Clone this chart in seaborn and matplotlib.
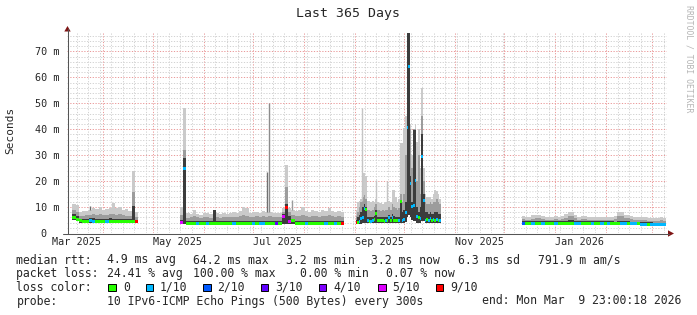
import numpy as np
import pandas as pd
import matplotlib
matplotlib.use("Agg")
import matplotlib.pyplot as plt
import matplotlib.dates as mdates
import matplotlib.transforms as mtransforms
from matplotlib.ticker import FixedLocator, MultipleLocator, NullFormatter
from matplotlib.patches import Polygon, Rectangle
from matplotlib.lines import Line2D
import seaborn as sns

# ---------------- data ----------------
title = "Last 365 Days"
y_label = "Seconds"
t_start = "2025-03-09 23:00:18"
t_end = "2026-03-09 23:00:18"
y_max = 77.1
y_ticks = [0, 10, 20, 30, 40, 50, 60, 70]
y_tick_labels = ["0  ", "10 m", "20 m", "30 m", "40 m", "50 m", "60 m", "70 m"]
x_label_dates = ["2025-03-16", "2025-05-16", "2025-07-16", "2025-09-16", "2025-11-16", "2026-01-16"]
x_labels = ["Mar 2025", "May 2025", "Jul 2025", "Sep 2025", "Nov 2025", "Jan 2026"]

loss_labels = ["0", "1/10", "2/10", "3/10", "4/10", "5/10", "9/10"]
loss_colors = ["#26ff00", "#00b8ff", "#0059ff", "#5e00ff", "#7e00ff", "#dd00ff", "#ff0000"]

# values in milliseconds (axis shows "m" = milli-seconds)
seg1_start, seg1_step = "2025-03-13 05:00", 2
seg1_med = [5.8, 5.2, 4.7, 4.6, 4.6, 4.7, 4.6, 4.6, 4.6, 4.6, 4.6, 4.6, 4.6, 4.5, 4.6, 4.6, 4.5, 4.5, 4.6, 4.4]
seg1_lo = [5.0, 4.5, 4.0, 4.0, 4.0, 4.0, 4.0, 4.0, 4.0, 4.0, 4.0, 4.0, 4.0, 3.9, 4.0, 4.0, 3.9, 3.9, 4.0, 3.8]
seg1_dark = [7.2, 6.6, 5.5, 5.4, 5.4, 5.6, 5.6, 5.4, 5.5, 5.4, 5.4, 5.6, 5.5, 5.4, 5.5, 5.4, 5.3, 5.3, 10.5, 5.2]
seg1_mid = [9.0, 8.2, 6.6, 6.5, 6.8, 7.0, 7.2, 6.9, 7.2, 6.8, 6.9, 7.2, 7.4, 7.0, 7.2, 6.8, 6.7, 6.6, 15.9, 6.2]
seg1_hi = [11.3, 10.8, 8.2, 8.6, 8.4, 9.0, 9.6, 9.4, 10.0, 8.8, 9.2, 9.8, 11.4, 9.6, 10.0, 8.8, 9.2, 8.6, 24.0, 8.0]
seg1_loss = [0, 0, 0, 0, 0, 1, 1, 0, 0, 0, 1, 0, 0, 0, 0, 0, 0, 0, 0, 6]

seg2_start, seg2_step = "2025-05-17 12:00", 2
seg2_med = [4.0, 24.7, 3.7, 3.7, 3.7, 3.7, 3.7, 3.7, 3.7, 3.7, 3.8, 3.7, 3.7, 3.7, 3.7, 3.7, 3.7,
            3.7, 3.7, 3.7, 3.7, 3.7, 3.7, 3.7, 3.7, 3.7, 3.7, 3.7, 3.7, 3.8, 3.7, 6.5, 10.0, 4.3,
            4.8, 3.7, 3.7, 3.7, 3.7, 3.7, 3.7, 3.7, 3.7, 3.7, 3.7, 3.7, 3.7, 3.7, 3.7, 3.8]
seg2_lo = [3.3, 3.5, 3.2, 3.2, 3.2, 3.2, 3.2, 3.2, 3.2, 3.2, 3.2, 3.2, 3.2, 3.2, 3.2, 3.2, 3.2,
           3.2, 3.2, 3.2, 3.2, 3.2, 3.2, 3.2, 3.2, 3.2, 3.2, 3.2, 3.2, 3.2, 3.2, 3.5, 3.5, 3.4,
           3.3, 3.2, 3.2, 3.2, 3.2, 3.2, 3.2, 3.2, 3.2, 3.2, 3.2, 3.2, 3.2, 3.2, 3.2, 3.2]
seg2_dark = [5.0, 28.8, 4.6, 4.6, 4.8, 4.6, 4.6, 4.6, 4.6, 4.6, 8.9, 4.6, 4.6, 4.6, 4.6, 4.6, 4.6,
             4.6, 4.6, 4.6, 4.6, 4.6, 4.6, 4.6, 4.6, 4.6, 4.6, 4.6, 4.6, 4.6, 4.6, 7.2, 11.0, 6.5,
             5.5, 4.6, 4.6, 4.6, 4.6, 4.6, 4.6, 4.6, 4.6, 4.6, 4.6, 4.6, 4.6, 4.6, 4.6, 4.6]
seg2_mid = [7.0, 32.0, 5.8, 6.0, 6.5, 6.0, 5.8, 6.2, 6.0, 5.8, 8.9, 6.0, 5.8, 6.2, 6.0, 6.0, 6.2,
            6.0, 6.4, 6.8, 6.4, 6.0, 6.2, 6.4, 6.2, 6.4, 6.2, 6.4, 6.2, 6.0, 6.0, 8.0, 17.8, 8.0,
            7.0, 6.4, 6.6, 7.0, 6.4, 6.2, 6.6, 6.4, 6.2, 6.6, 6.4, 7.0, 6.4, 6.2, 6.4, 6.2]
seg2_hi = [10.0, 48.0, 7.6, 7.2, 8.9, 7.4, 7.0, 7.8, 7.6, 7.2, 9.0, 7.8, 7.4, 7.8, 7.2, 7.6, 8.2,
           7.8, 8.4, 10.0, 9.6, 7.8, 8.0, 8.2, 7.8, 8.4, 8.0, 8.2, 7.8, 7.6, 7.8, 9.5, 26.2, 9.5,
           9.0, 8.4, 8.8, 10.0, 8.6, 8.2, 9.0, 8.4, 8.0, 8.8, 8.6, 9.6, 8.4, 8.2, 8.6, 8.0]
seg2_loss = [5, 1, 0, 0, 0, 1, 0, 0, 1, 0, 0, 0, 0, 0, 0, 0, 1, 0, 0, 0, 0, 0, 1, 0, 1, 1, 0, 0, 0,
             3, 0, 5, 6, 5, 0, 0, 0, 0, 1, 0, 0, 0, 0, 0, 1, 0, 0, 1, 0, 6]

seg3_start, seg3_step = "2025-09-01 12:00", 1
seg3_med = [3.9, 3.9, 4.5, 5.5, 5.8, 9.6, 9.0, 4.8, 4.6, 4.6, 5.0, 5.2, 7.7, 4.8, 4.7, 4.8, 4.7,
            4.6, 4.7, 4.8, 5.8, 4.8, 6.0, 4.8, 4.7, 4.7, 4.8, 12.0, 5.0, 5.2, 8.0, 40.5, 64.2, 18.9,
            10.4, 10.5, 20.2, 6.5, 6.0, 5.5, 29.6, 12.5, 5.0, 5.3, 5.0, 5.5, 5.0, 5.3, 5.0, 5.2, 5.0, 5.0]
seg3_lo = [3.4, 3.4, 3.5, 3.5, 3.8, 4.0, 4.0, 3.8, 3.8, 3.8, 3.8, 4.0, 4.0, 3.8, 3.8, 3.8, 3.8,
           3.8, 3.8, 3.8, 3.9, 3.8, 3.9, 3.8, 3.8, 3.8, 3.8, 4.0, 3.9, 3.9, 4.2, 6.0, 7.0, 6.0,
           5.0, 4.5, 4.5, 4.0, 4.0, 4.0, 4.5, 4.5, 4.0, 4.0, 4.0, 4.0, 4.0, 4.0, 4.0, 4.0, 4.0, 4.0]
seg3_dark = [5.0, 6.0, 7.0, 8.0, 10.0, 11.0, 10.0, 6.2, 6.0, 6.0, 6.3, 6.5, 8.8, 6.2, 6.0, 6.0, 6.0,
             6.0, 6.2, 6.2, 7.0, 6.2, 7.5, 6.5, 6.2, 6.0, 6.2, 12.5, 8.0, 9.0, 12.0, 77.1, 77.1, 22.0,
             12.0, 39.7, 39.7, 10.0, 8.0, 10.0, 38.0, 15.0, 8.0, 8.0, 7.5, 8.0, 7.5, 7.5, 8.0, 8.0, 7.5, 7.5]
seg3_mid = [6.5, 8.0, 10.0, 12.0, 14.0, 14.5, 13.0, 9.0, 9.0, 8.5, 9.0, 10.0, 11.0, 9.0, 9.0, 8.5, 9.0,
            8.5, 9.0, 9.0, 10.0, 9.0, 11.0, 10.0, 9.5, 9.0, 9.5, 15.0, 12.0, 15.0, 30.0, 77.1, 77.1, 40.0,
            25.0, 40.0, 40.0, 20.0, 30.0, 15.0, 45.0, 20.0, 12.0, 11.0, 11.0, 12.0, 11.0, 12.0, 12.0, 13.0, 12.0, 11.0]
seg3_hi = [9.0, 12.0, 12.5, 13.0, 23.0, 23.0, 22.0, 12.5, 12.5, 12.0, 12.5, 12.0, 13.0, 12.0, 11.5, 11.5, 11.0,
           11.5, 12.0, 12.0, 12.5, 12.0, 16.7, 16.7, 14.0, 12.0, 13.0, 34.7, 34.7, 40.5, 45.0, 77.1, 77.1, 42.0,
           30.0, 40.0, 42.0, 35.0, 40.0, 25.0, 55.9, 25.0, 15.0, 14.0, 14.0, 14.0, 13.0, 15.0, 16.7, 16.0, 15.0, 13.0]
seg3_loss = [6, 0, 1, 1, 1, 1, 0, 1, 0, 1, 1, 0, 0, 0, 0, 0, 0, 0, 1, 0, 1, 0, 1, 0, 0, 0, 1, 0, 1, 1,
             1, 1, 1, 1, 1, 1, 1, 1, 0, 1, 1, 1, 1, 0, 1, 1, 0, 1, 0, 1, 0, 1]

seg4_start, seg4_step = "2025-12-11 12:00", 2
seg4_med = [3.7, 3.7, 3.7, 3.7, 3.7, 3.7, 3.7, 3.7, 3.7, 3.7, 3.7, 3.7, 3.7, 3.7, 3.7, 3.7, 3.7, 3.7,
            3.7, 3.7, 3.7, 3.7, 3.7, 3.7, 3.7, 3.7, 3.7, 3.7, 3.5, 3.5, 3.5, 3.5, 3.5, 3.5, 3.5, 3.5,
            3.3, 3.3, 3.3, 3.3, 3.1, 3.1, 3.1, 3.1]
seg4_lo = [3.2, 3.2, 3.2, 3.2, 3.2, 3.2, 3.2, 3.2, 3.2, 3.2, 3.2, 3.2, 3.2, 3.2, 3.2, 3.2, 3.2, 3.2,
           3.2, 3.2, 3.2, 3.2, 3.2, 3.2, 3.2, 3.2, 3.2, 3.2, 3.0, 3.0, 3.0, 3.0, 3.0, 3.0, 3.0, 3.0,
           2.8, 2.8, 2.8, 2.8, 2.6, 2.6, 2.6, 2.6]
seg4_dark = [4.6, 4.6, 4.6, 4.6, 4.7, 4.7, 4.6, 4.6, 4.6, 4.6, 4.6, 4.6, 4.6, 4.7, 4.9, 4.9, 4.7, 4.6,
             4.6, 4.6, 4.6, 4.6, 4.6, 4.6, 4.6, 4.6, 4.6, 4.6, 4.4, 4.7, 4.7, 4.5, 4.5, 4.4, 4.4, 4.4,
             4.2, 4.2, 4.2, 4.2, 4.0, 4.0, 4.0, 4.0]
seg4_mid = [5.3, 5.1, 5.2, 5.5, 5.6, 5.6, 5.3, 5.1, 5.2, 5.0, 5.3, 5.2, 5.3, 5.8, 6.4, 6.4, 5.6, 5.1,
            5.3, 5.3, 5.0, 5.2, 5.1, 5.0, 5.2, 5.0, 5.1, 5.0, 5.4, 6.6, 6.6, 5.6, 5.7, 5.4, 5.1, 5.2,
            5.0, 5.0, 4.8, 4.7, 4.6, 4.8, 4.9, 4.8]
seg4_hi = [6.5, 6.2, 6.3, 6.8, 7.0, 7.0, 6.4, 6.2, 6.3, 6.0, 6.4, 6.3, 6.5, 7.2, 8.0, 8.0, 6.8, 6.2,
           6.5, 6.4, 6.0, 6.3, 6.2, 6.0, 6.3, 6.0, 6.2, 6.0, 6.6, 8.2, 8.2, 6.8, 6.9, 6.6, 6.2, 6.3,
           6.0, 6.1, 5.8, 5.7, 5.6, 5.8, 6.0, 5.8]
seg4_loss = [2, 0, 0, 1, 0, 0, 1, 0, 0, 0, 1, 0, 0, 0, 0, 0, 1, 1, 0, 0, 0, 1, 0, 0, 1, 0, 1, 0, 0, 0,
             1, 1, 0, 1, 1, 0, 1, 1, 0, 1, 1, 1, 1, 1]

# single-sample outlier pings (thin smoke needles)
needle_times = ["2025-03-23 23:00", "2025-07-09 11:00", "2025-07-11 01:00", "2025-07-24 20:00",
                "2025-09-05 06:00", "2025-09-13 23:00", "2025-09-20 16:00"]
needle_bottom = [9.0, 8.0, 8.2, 9.0, 12.5, 12.0, 12.0]
needle_top = [10.4, 23.6, 50.0, 12.7, 48.0, 20.6, 20.0]

legend_rows = [
    ["median rtt:", "4.9 ms avg", "64.2 ms max", "3.2 ms min", "3.2 ms now", "6.3 ms sd", "791.9 m am/s"],
    ["packet loss:", "24.41 % avg", "100.00 % max", "0.00 % min", "0.07 % now"],
]
probe_text = "10 IPv6-ICMP Echo Pings (500 Bytes) every 300s"
end_text = "end: Mon Mar  9 23:00:18 2026"
watermark = "RRDTOOL / TOBI OETIKER"

# ---------------- style ----------------
W, H = 697, 315
sns.set_theme(style="white")
MONO = ["DejaVu Sans Mono", "DejaVu Sans"]
plt.rcParams["font.family"] = MONO
plt.rcParams["axes.facecolor"] = "white"
plt.rcParams["figure.facecolor"] = "white"

C_LIGHT = "#cacaca"
C_MID = "#9c9c9c"
C_DARK = "#3c3c3c"
needle_colors = ["#6a6a6a", "#707070", "#8c8c8c", "#9a9a9a", "#c4c4c4", "#c4c4c4", "#c4c4c4"]

fig = plt.figure(figsize=(W / 100, H / 100), dpi=100)
ax = fig.add_axes([67 / W, (H - 233) / H, 600 / W, 200 / H])
PX = mtransforms.Affine2D().scale(1 / W, -1 / H).translate(0, 1) + fig.transFigure


def draw_segment(start, step, lo, dark, mid, hi, med, loss):
    n = len(med)
    t = pd.date_range(start, periods=n + 1, freq=f"{step}D")
    for top, col in ((hi, C_LIGHT), (mid, C_MID), (dark, C_DARK)):
        ax.fill_between(t, list(lo) + [lo[-1]], list(top) + [top[-1]], step="post",
                        color=col, linewidth=0, zorder=2)
    med = np.asarray(med, dtype=float)
    ax.bar(t[:-1], np.full(n, 1.15), bottom=med - 0.575, width=step, align="edge",
           color=[loss_colors[k] for k in loss], linewidth=0, zorder=3)


draw_segment(seg1_start, seg1_step, seg1_lo, seg1_dark, seg1_mid, seg1_hi, seg1_med, seg1_loss)
draw_segment(seg2_start, seg2_step, seg2_lo, seg2_dark, seg2_mid, seg2_hi, seg2_med, seg2_loss)
draw_segment(seg3_start, seg3_step, seg3_lo, seg3_dark, seg3_mid, seg3_hi, seg3_med, seg3_loss)
draw_segment(seg4_start, seg4_step, seg4_lo, seg4_dark, seg4_mid, seg4_hi, seg4_med, seg4_loss)
ax.vlines(pd.to_datetime(needle_times), needle_bottom, needle_top, colors=needle_colors,
          linewidth=1.0, zorder=2.5)

ax.set_xlim(pd.Timestamp(t_start), pd.Timestamp(t_end))
ax.set_ylim(0, y_max)

# grid
ax.xaxis.set_major_locator(mdates.MonthLocator())
ax.xaxis.set_minor_locator(mdates.WeekdayLocator(byweekday=mdates.SU))
ax.xaxis.set_major_formatter(NullFormatter())
ax.xaxis.set_minor_formatter(NullFormatter())
ax.yaxis.set_major_locator(FixedLocator(y_ticks))
ax.yaxis.set_minor_locator(MultipleLocator(2))
ax.set_yticklabels(y_tick_labels)
ax.grid(which="minor", color="#d2d2d2", linestyle=(0, (1.2, 1.6)), linewidth=0.72, zorder=1)
ax.grid(which="major", color="#ea9a9a", linestyle=(0, (1.2, 1.6)), linewidth=0.72, zorder=1)
ax.set_axisbelow(True)
for s in ax.spines.values():
    s.set_visible(False)
ax.tick_params(axis="y", which="major", length=2.2, width=0.7, color="#999999",
               labelsize=7.3, pad=3.5, direction="out")
ax.tick_params(axis="y", which="minor", length=1.5, width=0.7, color="#bbbbbb", direction="out")
ax.tick_params(axis="x", which="both", length=1.5, width=0.7, color="#aaaaaa", direction="out")
for lab in ax.get_yticklabels():
    lab.set_family(MONO)

xlab_tr = mtransforms.blended_transform_factory(ax.transData, PX)
for d, s in zip(x_label_dates, x_labels):
    ax.text(pd.Timestamp(d), 242.0, s, transform=xlab_tr, ha="center", va="center",
            fontsize=7.3, family=MONO, clip_on=False)

# axes lines and arrows
axis_col = "#555555"
arrow_col = "#7f1515"
fig.add_artist(Line2D([67.5, 67.5], [233.5, 29], transform=PX, color=axis_col, lw=0.75))
fig.add_artist(Line2D([63, 669], [233.5, 233.5], transform=PX, color=axis_col, lw=0.75))
fig.add_artist(Polygon([[64.3, 31.5], [70.7, 31.5], [67.5, 26]], closed=True, transform=PX,
                       color=arrow_col, lw=0))
fig.add_artist(Polygon([[668, 230.3], [668, 236.7], [674, 233.5]], closed=True, transform=PX,
                       color=arrow_col, lw=0))

# texts
fig.text(348, 13.5, title, transform=PX, ha="center", va="center", fontsize=9.5, family=MONO)
fig.text(10.5, 130, y_label, transform=PX, ha="center", va="center", rotation=90,
         fontsize=8.0, family=MONO)
fig.text(688.5, 5, watermark, transform=PX, ha="center", va="top", rotation=270,
         fontsize=5.9, family=MONO, color="#b5b5b5")

LFS = 8.3
row_y = [263.5, 277.0, 291.0, 304.5]
row1_x = [16.5, 107, 193, 286, 371, 458, 538]
row2_x = [16.5, 107, 193, 299.5, 386.5]
for xs, items, y in ((row1_x, legend_rows[0], row_y[0]), (row2_x, legend_rows[1], row_y[1])):
    for x, s in zip(xs, items):
        fig.text(x, y, s, transform=PX, ha="left", va="baseline", fontsize=LFS, family=MONO)

fig.text(16.5, row_y[2], "loss color:", transform=PX, ha="left", va="baseline", fontsize=LFS, family=MONO)
box_x = [108.3, 145.7, 203.3, 261.0, 319.0, 378.3, 436.0]
lab_x = [123.0, 159.7, 217.5, 275.2, 333.2, 392.5, 450.0]
for bx, lx, col, lab in zip(box_x, lab_x, loss_colors, loss_labels):
    fig.add_artist(Rectangle((bx, 291.3), 7.3, -7.3, transform=PX, facecolor=col,
                             edgecolor="black", lw=0.7))
    fig.text(lx, row_y[2], lab, transform=PX, ha="left", va="baseline", fontsize=LFS, family=MONO)

fig.text(16.5, row_y[3], "probe:", transform=PX, ha="left", va="baseline", fontsize=LFS, family=MONO)
fig.text(107, row_y[3], probe_text, transform=PX, ha="left", va="baseline", fontsize=LFS, family=MONO)
fig.text(681, row_y[3], end_text, transform=PX, ha="right", va="baseline", fontsize=LFS, family=MONO)

fig.savefig("out.png", dpi=100, facecolor="white")
